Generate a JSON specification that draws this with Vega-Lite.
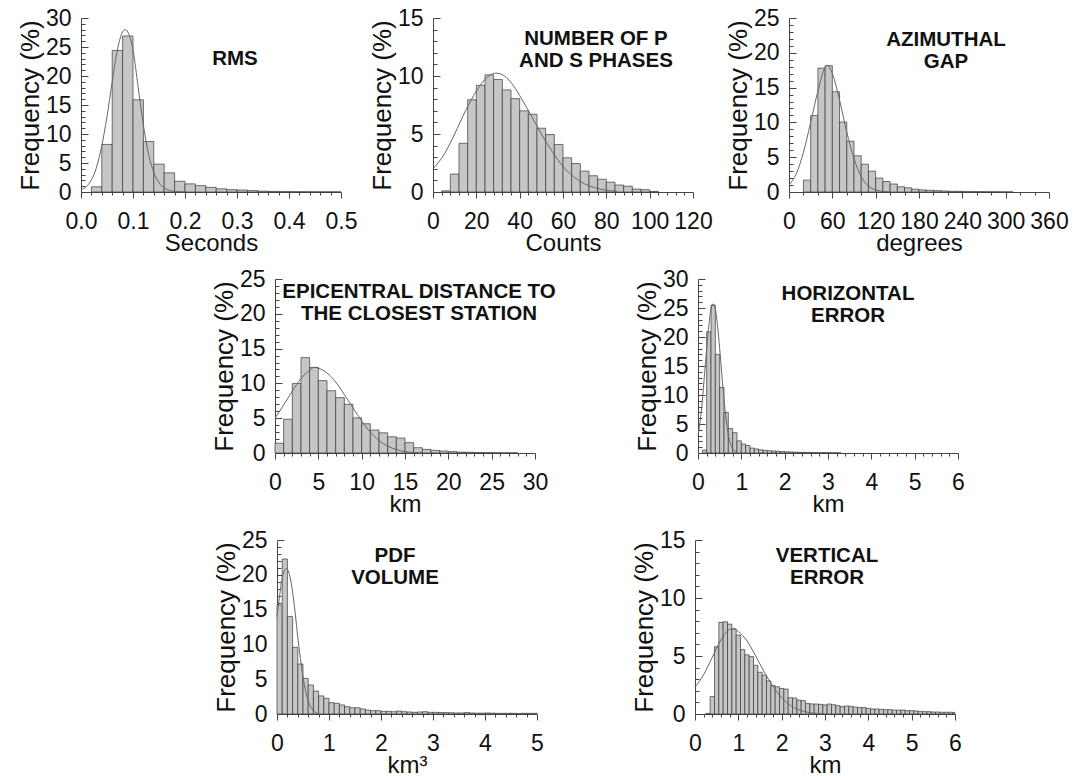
{
"$schema": "https://vega.github.io/schema/vega-lite/v6.json",
"padding": {"left": 17, "top": 7, "right": 0, "bottom": 0},
"background": "white",
"config": {
 "view": {"stroke": null},
 "font": "Liberation Sans",
 "axis": {"domainColor": "#444", "tickColor": "#444", "labelFont": "Liberation Sans", "labelFontSize": 23, "labelColor": "#111", "titleFont": "Liberation Sans", "titleFontSize": 24, "titleFontWeight": "normal", "titleColor": "#111", "grid": false, "labelOverlap": false, "labelFlush": false, "labelBound": false},
 "axisY": {"labelPadding": 17, "titlePadding": 2, "titleFontSize": 26},
 "axisX": {"labelPadding": 12, "titlePadding": -2},
 "title": {"font": "Liberation Sans", "fontSize": 20.5, "fontWeight": "bold", "color": "#111", "anchor": "middle", "frame": "group", "baseline": "top", "lineHeight": 22, "offset": 0},
 "rect": {"fill": "#c6c6c6", "stroke": "#3a3a3a", "strokeWidth": 0.7},
 "line": {"stroke": "#666", "strokeWidth": 1, "interpolate": "monotone"}
},
"datasets": {
 "rms_b": [{"x":0.02,"x2":0.04,"f":0.9},{"x":0.04,"x2":0.06,"f":8.2},{"x":0.06,"x2":0.08,"f":24.4},{"x":0.08,"x2":0.1,"f":26.9},{"x":0.1,"x2":0.12,"f":15.9},{"x":0.12,"x2":0.14,"f":8.7},{"x":0.14,"x2":0.16,"f":4.8},{"x":0.16,"x2":0.18,"f":3.3},{"x":0.18,"x2":0.2,"f":1.85},{"x":0.2,"x2":0.22,"f":1.4},{"x":0.22,"x2":0.24,"f":1.1},{"x":0.24,"x2":0.26,"f":0.8},{"x":0.26,"x2":0.28,"f":0.55},{"x":0.28,"x2":0.3,"f":0.4},{"x":0.3,"x2":0.32,"f":0.35},{"x":0.32,"x2":0.34,"f":0.25},{"x":0.34,"x2":0.36,"f":0.15},{"x":0.36,"x2":0.38,"f":0.1},{"x":0.38,"x2":0.4,"f":0.07},{"x":0.4,"x2":0.42,"f":0.05},{"x":0.42,"x2":0.44,"f":0.04},{"x":0.44,"x2":0.46,"f":0.03},{"x":0.46,"x2":0.48,"f":0.02},{"x":0.48,"x2":0.5,"f":0.02}],
 "rms_c": [{"x":0,"f":0.4},{"x":0.01,"f":0.9},{"x":0.02,"f":2.1},{"x":0.03,"f":4.3},{"x":0.04,"f":8.0},{"x":0.05,"f":13.0},{"x":0.06,"f":19.0},{"x":0.07,"f":24.5},{"x":0.08,"f":27.6},{"x":0.085,"f":28.0},{"x":0.09,"f":27.6},{"x":0.1,"f":24.5},{"x":0.11,"f":18.0},{"x":0.12,"f":11.5},{"x":0.13,"f":6.5},{"x":0.14,"f":3.4},{"x":0.15,"f":1.6},{"x":0.16,"f":0.7},{"x":0.17,"f":0.3},{"x":0.18,"f":0.1},{"x":0.2,"f":0.0}],
 "ph_b": [{"x":4,"x2":8,"f":0.1},{"x":8,"x2":12,"f":1.55},{"x":12,"x2":16,"f":4.2},{"x":16,"x2":20,"f":7.95},{"x":20,"x2":24,"f":9.2},{"x":24,"x2":28,"f":10.1},{"x":28,"x2":32,"f":9.7},{"x":32,"x2":36,"f":8.8},{"x":36,"x2":40,"f":8.05},{"x":40,"x2":44,"f":7.0},{"x":44,"x2":48,"f":6.7},{"x":48,"x2":52,"f":5.5},{"x":52,"x2":56,"f":4.95},{"x":56,"x2":60,"f":4.1},{"x":60,"x2":64,"f":2.95},{"x":64,"x2":68,"f":2.45},{"x":68,"x2":72,"f":1.8},{"x":72,"x2":76,"f":1.4},{"x":76,"x2":80,"f":1.1},{"x":80,"x2":84,"f":0.85},{"x":84,"x2":88,"f":0.6},{"x":88,"x2":92,"f":0.5},{"x":92,"x2":96,"f":0.25},{"x":96,"x2":100,"f":0.2},{"x":100,"x2":104,"f":0.05}],
 "ph_c": [{"x":0,"f":2.0},{"x":5,"f":3.2},{"x":10,"f":5.0},{"x":15,"f":7.0},{"x":20,"f":8.7},{"x":25,"f":9.9},{"x":29,"f":10.25},{"x":33,"f":10.0},{"x":37,"f":9.2},{"x":41,"f":8.0},{"x":45,"f":6.7},{"x":50,"f":5.0},{"x":55,"f":3.5},{"x":60,"f":2.2},{"x":65,"f":1.3},{"x":70,"f":0.7},{"x":75,"f":0.35},{"x":80,"f":0.15},{"x":85,"f":0.05}],
 "gap_b": [{"x":20,"x2":30,"f":1.7},{"x":30,"x2":40,"f":11.0},{"x":40,"x2":50,"f":17.8},{"x":50,"x2":60,"f":18.15},{"x":60,"x2":70,"f":14.4},{"x":70,"x2":80,"f":10.05},{"x":80,"x2":90,"f":7.3},{"x":90,"x2":100,"f":5.2},{"x":100,"x2":110,"f":4.0},{"x":110,"x2":120,"f":3.0},{"x":120,"x2":130,"f":2.0},{"x":130,"x2":140,"f":1.5},{"x":140,"x2":150,"f":1.15},{"x":150,"x2":160,"f":0.75},{"x":160,"x2":170,"f":0.6},{"x":170,"x2":180,"f":0.4},{"x":180,"x2":190,"f":0.3},{"x":190,"x2":200,"f":0.25},{"x":200,"x2":210,"f":0.2},{"x":210,"x2":220,"f":0.15},{"x":220,"x2":230,"f":0.1},{"x":230,"x2":240,"f":0.1},{"x":240,"x2":250,"f":0.06},{"x":250,"x2":260,"f":0.05},{"x":260,"x2":270,"f":0.04},{"x":270,"x2":280,"f":0.03},{"x":280,"x2":290,"f":0.03},{"x":290,"x2":300,"f":0.02},{"x":300,"x2":310,"f":0.02}],
 "gap_c": [{"x":0,"f":1.0},{"x":10,"f":2.6},{"x":20,"f":5.7},{"x":30,"f":10.0},{"x":40,"f":14.5},{"x":50,"f":17.9},{"x":53,"f":18.2},{"x":60,"f":17.0},{"x":70,"f":13.2},{"x":80,"f":8.6},{"x":90,"f":4.8},{"x":100,"f":2.2},{"x":110,"f":0.85},{"x":120,"f":0.3},{"x":130,"f":0.08},{"x":140,"f":0.02}],
 "epi_b": [{"x":0,"x2":1,"f":1.4},{"x":1,"x2":2,"f":4.85},{"x":2,"x2":3,"f":10.0},{"x":3,"x2":4,"f":13.7},{"x":4,"x2":5,"f":12.3},{"x":5,"x2":6,"f":10.4},{"x":6,"x2":7,"f":8.95},{"x":7,"x2":8,"f":7.95},{"x":8,"x2":9,"f":7.0},{"x":9,"x2":10,"f":5.05},{"x":10,"x2":11,"f":4.2},{"x":11,"x2":12,"f":3.3},{"x":12,"x2":13,"f":2.9},{"x":13,"x2":14,"f":2.33},{"x":14,"x2":15,"f":2.14},{"x":15,"x2":16,"f":1.48},{"x":16,"x2":17,"f":0.76},{"x":17,"x2":18,"f":0.52},{"x":18,"x2":19,"f":0.38},{"x":19,"x2":20,"f":0.28},{"x":20,"x2":21,"f":0.2},{"x":21,"x2":22,"f":0.12},{"x":22,"x2":23,"f":0.1},{"x":23,"x2":24,"f":0.07},{"x":24,"x2":25,"f":0.05},{"x":25,"x2":26,"f":0.03},{"x":26,"x2":27,"f":0.02},{"x":27,"x2":28,"f":0.02}],
 "epi_c": [{"x":0,"f":5.0},{"x":1,"f":6.9},{"x":2,"f":8.9},{"x":3,"f":10.7},{"x":4,"f":11.9},{"x":4.5,"f":12.3},{"x":5,"f":12.2},{"x":6,"f":11.5},{"x":7,"f":10.2},{"x":8,"f":8.4},{"x":9,"f":6.5},{"x":10,"f":4.6},{"x":11,"f":3.0},{"x":12,"f":1.8},{"x":13,"f":1.0},{"x":14,"f":0.5},{"x":15,"f":0.2},{"x":16,"f":0.08},{"x":17,"f":0.02}],
 "he_b": [{"x":0.1,"x2":0.2,"f":0.5},{"x":0.2,"x2":0.3,"f":20.9},{"x":0.3,"x2":0.4,"f":25.5},{"x":0.4,"x2":0.5,"f":17.0},{"x":0.5,"x2":0.6,"f":11.3},{"x":0.6,"x2":0.7,"f":7.0},{"x":0.7,"x2":0.8,"f":4.2},{"x":0.8,"x2":0.9,"f":3.5},{"x":0.9,"x2":1.0,"f":2.1},{"x":1.0,"x2":1.1,"f":1.55},{"x":1.1,"x2":1.2,"f":1.3},{"x":1.2,"x2":1.3,"f":0.85},{"x":1.3,"x2":1.4,"f":0.7},{"x":1.4,"x2":1.5,"f":0.55},{"x":1.5,"x2":1.6,"f":0.45},{"x":1.6,"x2":1.7,"f":0.4},{"x":1.7,"x2":1.8,"f":0.35},{"x":1.8,"x2":1.9,"f":0.3},{"x":1.9,"x2":2.0,"f":0.25},{"x":2.0,"x2":2.1,"f":0.2},{"x":2.1,"x2":2.2,"f":0.18},{"x":2.2,"x2":2.3,"f":0.15},{"x":2.3,"x2":2.4,"f":0.12},{"x":2.4,"x2":2.5,"f":0.1},{"x":2.5,"x2":2.6,"f":0.1},{"x":2.6,"x2":2.7,"f":0.08},{"x":2.7,"x2":2.8,"f":0.06},{"x":2.8,"x2":2.9,"f":0.05},{"x":2.9,"x2":3.0,"f":0.05},{"x":3.0,"x2":3.1,"f":0.04},{"x":3.1,"x2":3.2,"f":0.03},{"x":3.2,"x2":3.3,"f":0.03}],
 "he_c": [{"x":0,"f":3.0},{"x":0.05,"f":5.5},{"x":0.1,"f":9.0},{"x":0.15,"f":13.5},{"x":0.2,"f":18.0},{"x":0.25,"f":22.0},{"x":0.3,"f":24.8},{"x":0.35,"f":25.7},{"x":0.4,"f":24.8},{"x":0.45,"f":22.0},{"x":0.5,"f":18.0},{"x":0.55,"f":13.5},{"x":0.6,"f":9.2},{"x":0.65,"f":5.7},{"x":0.7,"f":3.2},{"x":0.75,"f":1.6},{"x":0.8,"f":0.7},{"x":0.85,"f":0.3},{"x":0.9,"f":0.1}],
 "pdf_b": [{"x":0,"x2":0.1,"f":15.66},{"x":0.1,"x2":0.2,"f":22.27},{"x":0.2,"x2":0.3,"f":14.0},{"x":0.3,"x2":0.4,"f":9.58},{"x":0.4,"x2":0.5,"f":7.18},{"x":0.5,"x2":0.6,"f":5.12},{"x":0.6,"x2":0.7,"f":4.17},{"x":0.7,"x2":0.8,"f":3.3},{"x":0.8,"x2":0.9,"f":2.6},{"x":0.9,"x2":1.0,"f":2.25},{"x":1.0,"x2":1.1,"f":1.63},{"x":1.1,"x2":1.2,"f":1.53},{"x":1.2,"x2":1.3,"f":1.3},{"x":1.3,"x2":1.4,"f":1.05},{"x":1.4,"x2":1.5,"f":0.9},{"x":1.5,"x2":1.6,"f":0.9},{"x":1.6,"x2":1.7,"f":0.72},{"x":1.7,"x2":1.8,"f":0.57},{"x":1.8,"x2":1.9,"f":0.48},{"x":1.9,"x2":2.0,"f":0.48},{"x":2.0,"x2":2.1,"f":0.38},{"x":2.1,"x2":2.2,"f":0.38},{"x":2.2,"x2":2.3,"f":0.33},{"x":2.3,"x2":2.4,"f":0.43},{"x":2.4,"x2":2.5,"f":0.33},{"x":2.5,"x2":2.6,"f":0.29},{"x":2.6,"x2":2.7,"f":0.24},{"x":2.7,"x2":2.8,"f":0.29},{"x":2.8,"x2":2.9,"f":0.33},{"x":2.9,"x2":3.0,"f":0.24},{"x":3.0,"x2":3.1,"f":0.24},{"x":3.1,"x2":3.2,"f":0.22},{"x":3.2,"x2":3.3,"f":0.2},{"x":3.3,"x2":3.4,"f":0.18},{"x":3.4,"x2":3.5,"f":0.15},{"x":3.5,"x2":3.6,"f":0.15},{"x":3.6,"x2":3.7,"f":0.2},{"x":3.7,"x2":3.8,"f":0.15},{"x":3.8,"x2":3.9,"f":0.12},{"x":3.9,"x2":4.0,"f":0.12},{"x":4.0,"x2":4.1,"f":0.15},{"x":4.1,"x2":4.2,"f":0.12},{"x":4.2,"x2":4.3,"f":0.1},{"x":4.3,"x2":4.4,"f":0.1},{"x":4.4,"x2":4.5,"f":0.1},{"x":4.5,"x2":4.6,"f":0.1},{"x":4.6,"x2":4.7,"f":0.08},{"x":4.7,"x2":4.8,"f":0.1},{"x":4.8,"x2":4.9,"f":0.1},{"x":4.9,"x2":5.0,"f":0.1}],
 "pdf_c": [{"x":0,"f":14.0},{"x":0.05,"f":17.0},{"x":0.1,"f":19.5},{"x":0.15,"f":20.7},{"x":0.18,"f":20.9},{"x":0.2,"f":20.8},{"x":0.25,"f":19.7},{"x":0.3,"f":17.5},{"x":0.35,"f":14.5},{"x":0.4,"f":11.0},{"x":0.45,"f":8.0},{"x":0.5,"f":5.3},{"x":0.55,"f":3.3},{"x":0.6,"f":1.9},{"x":0.65,"f":1.0},{"x":0.7,"f":0.5},{"x":0.75,"f":0.2},{"x":0.8,"f":0.05}],
 "ve_b": [{"x":0.25,"x2":0.35,"f":0.05},{"x":0.35,"x2":0.45,"f":1.5},{"x":0.45,"x2":0.55,"f":5.8},{"x":0.55,"x2":0.65,"f":7.9},{"x":0.65,"x2":0.75,"f":7.95},{"x":0.75,"x2":0.85,"f":7.75},{"x":0.85,"x2":0.95,"f":7.35},{"x":0.95,"x2":1.05,"f":6.8},{"x":1.05,"x2":1.15,"f":5.55},{"x":1.15,"x2":1.25,"f":5.1},{"x":1.25,"x2":1.35,"f":4.95},{"x":1.35,"x2":1.45,"f":4.2},{"x":1.45,"x2":1.55,"f":3.6},{"x":1.55,"x2":1.65,"f":3.35},{"x":1.65,"x2":1.75,"f":2.85},{"x":1.75,"x2":1.85,"f":2.45},{"x":1.85,"x2":1.95,"f":2.35},{"x":1.95,"x2":2.05,"f":2.2},{"x":2.05,"x2":2.15,"f":2.15},{"x":2.15,"x2":2.25,"f":1.4},{"x":2.25,"x2":2.35,"f":1.38},{"x":2.35,"x2":2.45,"f":1.2},{"x":2.45,"x2":2.55,"f":1.15},{"x":2.55,"x2":2.65,"f":0.9},{"x":2.65,"x2":2.75,"f":0.87},{"x":2.75,"x2":2.85,"f":0.86},{"x":2.85,"x2":2.95,"f":0.83},{"x":2.95,"x2":3.05,"f":0.78},{"x":3.05,"x2":3.15,"f":0.86},{"x":3.15,"x2":3.25,"f":0.8},{"x":3.25,"x2":3.35,"f":0.72},{"x":3.35,"x2":3.45,"f":0.63},{"x":3.45,"x2":3.55,"f":0.69},{"x":3.55,"x2":3.65,"f":0.66},{"x":3.65,"x2":3.75,"f":0.6},{"x":3.75,"x2":3.85,"f":0.55},{"x":3.85,"x2":3.95,"f":0.55},{"x":3.95,"x2":4.05,"f":0.49},{"x":4.05,"x2":4.15,"f":0.43},{"x":4.15,"x2":4.25,"f":0.43},{"x":4.25,"x2":4.35,"f":0.4},{"x":4.35,"x2":4.45,"f":0.37},{"x":4.45,"x2":4.55,"f":0.37},{"x":4.55,"x2":4.65,"f":0.34},{"x":4.65,"x2":4.75,"f":0.34},{"x":4.75,"x2":4.85,"f":0.34},{"x":4.85,"x2":4.95,"f":0.29},{"x":4.95,"x2":5.05,"f":0.29},{"x":5.05,"x2":5.15,"f":0.26},{"x":5.15,"x2":5.25,"f":0.23},{"x":5.25,"x2":5.35,"f":0.2},{"x":5.35,"x2":5.45,"f":0.2},{"x":5.45,"x2":5.55,"f":0.17},{"x":5.55,"x2":5.65,"f":0.17},{"x":5.65,"x2":5.75,"f":0.15},{"x":5.75,"x2":5.85,"f":0.15},{"x":5.85,"x2":5.95,"f":0.15},{"x":5.95,"x2":6.0,"f":0.12}],
 "ve_c": [{"x":0,"f":2.3},{"x":0.2,"f":3.4},{"x":0.4,"f":4.9},{"x":0.6,"f":6.4},{"x":0.8,"f":7.3},{"x":0.86,"f":7.35},{"x":1.0,"f":7.1},{"x":1.2,"f":6.3},{"x":1.4,"f":5.0},{"x":1.6,"f":3.6},{"x":1.8,"f":2.4},{"x":2.0,"f":1.4},{"x":2.2,"f":0.75},{"x":2.4,"f":0.35},{"x":2.6,"f":0.15},{"x":2.8,"f":0.05},{"x":3.0,"f":0.01}],
 "spacer": [{"a": 0}]
},
"vconcat": [
 {"hconcat": [
  {"width": 260, "height": 174, "title": {"text": ["RMS"], "dx": 24, "dy": 66},
   "layer": [
    {"data": {"name": "rms_b"}, "mark": "rect", "encoding": {
      "x": {"field": "x", "type": "quantitative", "scale": {"domain": [0, 0.5], "nice": false}, "axis": {"title": "Seconds", "labelOverlap": false, "tickCount": 1000, "values": [0,0.02,0.04,0.06,0.08,0.1,0.12,0.14,0.16,0.18,0.2,0.22,0.24,0.26,0.28,0.3,0.32,0.34,0.36,0.38,0.4,0.42,0.44,0.46,0.48,0.5], "tickSize": {"condition": {"test": "abs(datum.value*10 - round(datum.value*10)) < 0.001", "value": 6}, "value": 3}, "labelExpr": "abs(datum.value*10 - round(datum.value*10)) < 0.001 ? format(datum.value, '.1f') : ''"}},
      "x2": {"field": "x2"},
      "y": {"field": "f", "type": "quantitative", "scale": {"domain": [0, 30], "nice": false}, "axis": {"title": "Frequency (%)", "labelOverlap": false, "tickCount": 1000, "values": [0,1,2,3,4,5,6,7,8,9,10,11,12,13,14,15,16,17,18,19,20,21,22,23,24,25,26,27,28,29,30], "tickSize": {"condition": {"test": "datum.value % 5 === 0", "value": -7}, "value": -4}, "labelExpr": "datum.value % 5 === 0 ? format(datum.value, 'd') : ''"}},
      "y2": {"datum": 0}}},
    {"data": {"name": "rms_c"}, "mark": "line", "encoding": {"x": {"field": "x", "type": "quantitative"}, "y": {"field": "f", "type": "quantitative"}}}
   ]},
  {"width": 260, "height": 174, "title": {"text": ["NUMBER OF P", "AND S PHASES"], "dx": 33, "dy": 68},
   "layer": [
    {"data": {"name": "ph_b"}, "mark": "rect", "encoding": {
      "x": {"field": "x", "type": "quantitative", "scale": {"domain": [0, 120], "nice": false}, "axis": {"title": "Counts", "labelOverlap": false, "tickCount": 1000, "values": [0,4,8,12,16,20,24,28,32,36,40,44,48,52,56,60,64,68,72,76,80,84,88,92,96,100,104,108,112,116,120], "tickSize": {"condition": {"test": "datum.value % 20 === 0", "value": 6}, "value": 3}, "labelExpr": "datum.value % 20 === 0 ? format(datum.value, 'd') : ''"}},
      "x2": {"field": "x2"},
      "y": {"field": "f", "type": "quantitative", "scale": {"domain": [0, 15], "nice": false}, "axis": {"title": "Frequency (%)", "labelOverlap": false, "tickCount": 1000, "values": [0,1,2,3,4,5,6,7,8,9,10,11,12,13,14,15], "tickSize": {"condition": {"test": "datum.value % 5 === 0", "value": -7}, "value": -4}, "labelExpr": "datum.value % 5 === 0 ? format(datum.value, 'd') : ''"}},
      "y2": {"datum": 0}}},
    {"data": {"name": "ph_c"}, "mark": "line", "encoding": {"x": {"field": "x", "type": "quantitative"}, "y": {"field": "f", "type": "quantitative"}}}
   ]},
  {"width": 260, "height": 174, "title": {"text": ["AZIMUTHAL", "GAP"], "dx": 27, "dy": 69},
   "layer": [
    {"data": {"name": "gap_b"}, "mark": "rect", "encoding": {
      "x": {"field": "x", "type": "quantitative", "scale": {"domain": [0, 360], "nice": false}, "axis": {"title": "degrees", "labelOverlap": false, "tickCount": 1000, "values": [0,20,40,60,80,100,120,140,160,180,200,220,240,260,280,300,320,340,360], "tickSize": {"condition": {"test": "datum.value % 60 === 0", "value": 6}, "value": 3}, "labelExpr": "datum.value % 60 === 0 ? format(datum.value, 'd') : ''"}},
      "x2": {"field": "x2"},
      "y": {"field": "f", "type": "quantitative", "scale": {"domain": [0, 25], "nice": false}, "axis": {"title": "Frequency (%)", "labelOverlap": false, "tickCount": 1000, "values": [0,1,2,3,4,5,6,7,8,9,10,11,12,13,14,15,16,17,18,19,20,21,22,23,24,25], "tickSize": {"condition": {"test": "datum.value % 5 === 0", "value": -7}, "value": -4}, "labelExpr": "datum.value % 5 === 0 ? format(datum.value, 'd') : ''"}},
      "y2": {"datum": 0}}},
    {"data": {"name": "gap_c"}, "mark": "line", "encoding": {"x": {"field": "x", "type": "quantitative"}, "y": {"field": "f", "type": "quantitative"}}}
   ]}
 ], "spacing": 12},
 {"hconcat": [
  {"width": 52, "height": 2, "data": {"name": "spacer"}, "mark": {"type": "point", "opacity": 0}, "encoding": {"x": {"field": "a", "type": "quantitative", "axis": null}, "y": {"field": "a", "type": "quantitative", "axis": null}}},
  {"width": 260, "height": 174, "title": {"text": ["EPICENTRAL DISTANCE TO", "THE CLOSEST STATION"], "dx": 14, "dy": 60},
   "layer": [
    {"data": {"name": "epi_b"}, "mark": "rect", "encoding": {
      "x": {"field": "x", "type": "quantitative", "scale": {"domain": [0, 30], "nice": false}, "axis": {"title": "km", "labelOverlap": false, "tickCount": 1000, "values": [0,1,2,3,4,5,6,7,8,9,10,11,12,13,14,15,16,17,18,19,20,21,22,23,24,25,26,27,28,29,30], "tickSize": {"condition": {"test": "datum.value % 5 === 0", "value": 6}, "value": 3}, "labelExpr": "datum.value % 5 === 0 ? format(datum.value, 'd') : ''"}},
      "x2": {"field": "x2"},
      "y": {"field": "f", "type": "quantitative", "scale": {"domain": [0, 25], "nice": false}, "axis": {"title": "Frequency (%)", "labelOverlap": false, "tickCount": 1000, "values": [0,1,2,3,4,5,6,7,8,9,10,11,12,13,14,15,16,17,18,19,20,21,22,23,24,25], "tickSize": {"condition": {"test": "datum.value % 5 === 0", "value": -7}, "value": -4}, "labelExpr": "datum.value % 5 === 0 ? format(datum.value, 'd') : ''"}},
      "y2": {"datum": 0}}},
    {"data": {"name": "epi_c"}, "mark": "line", "encoding": {"x": {"field": "x", "type": "quantitative"}, "y": {"field": "f", "type": "quantitative"}}}
   ]},
  {"width": 260, "height": 174, "title": {"text": ["HORIZONTAL", "ERROR"], "dx": 20, "dy": 62},
   "layer": [
    {"data": {"name": "he_b"}, "mark": "rect", "encoding": {
      "x": {"field": "x", "type": "quantitative", "scale": {"domain": [0, 6], "nice": false}, "axis": {"title": "km", "labelOverlap": false, "tickCount": 1000, "values": [0,0.2,0.4,0.6,0.8,1,1.2,1.4,1.6,1.8,2,2.2,2.4,2.6,2.8,3,3.2,3.4,3.6,3.8,4,4.2,4.4,4.6,4.8,5,5.2,5.4,5.6,5.8,6], "tickSize": {"condition": {"test": "abs(datum.value - round(datum.value)) < 0.001", "value": 6}, "value": 3}, "labelExpr": "abs(datum.value - round(datum.value)) < 0.001 ? format(datum.value, '.0f') : ''"}},
      "x2": {"field": "x2"},
      "y": {"field": "f", "type": "quantitative", "scale": {"domain": [0, 30], "nice": false}, "axis": {"title": "Frequency (%)", "labelOverlap": false, "tickCount": 1000, "values": [0,1,2,3,4,5,6,7,8,9,10,11,12,13,14,15,16,17,18,19,20,21,22,23,24,25,26,27,28,29,30], "tickSize": {"condition": {"test": "datum.value % 5 === 0", "value": -7}, "value": -4}, "labelExpr": "datum.value % 5 === 0 ? format(datum.value, 'd') : ''"}},
      "y2": {"datum": 0}}},
    {"data": {"name": "he_c"}, "mark": "line", "encoding": {"x": {"field": "x", "type": "quantitative"}, "y": {"field": "f", "type": "quantitative"}}}
   ]}
 ], "spacing": 78},
 {"hconcat": [
  {"width": 45, "height": 2, "data": {"name": "spacer"}, "mark": {"type": "point", "opacity": 0}, "encoding": {"x": {"field": "a", "type": "quantitative", "axis": null}, "y": {"field": "a", "type": "quantitative", "axis": null}}},
  {"width": 260, "height": 174, "title": {"text": ["PDF", "VOLUME"], "dx": -12, "dy": 63},
   "layer": [
    {"data": {"name": "pdf_b"}, "mark": "rect", "encoding": {
      "x": {"field": "x", "type": "quantitative", "scale": {"domain": [0, 5], "nice": false}, "axis": {"title": "km³", "labelOverlap": false, "tickCount": 1000, "values": [0,0.2,0.4,0.6,0.8,1,1.2,1.4,1.6,1.8,2,2.2,2.4,2.6,2.8,3,3.2,3.4,3.6,3.8,4,4.2,4.4,4.6,4.8,5], "tickSize": {"condition": {"test": "abs(datum.value - round(datum.value)) < 0.001", "value": 6}, "value": 3}, "labelExpr": "abs(datum.value - round(datum.value)) < 0.001 ? format(datum.value, '.0f') : ''"}},
      "x2": {"field": "x2"},
      "y": {"field": "f", "type": "quantitative", "scale": {"domain": [0, 25], "nice": false}, "axis": {"title": "Frequency (%)", "labelOverlap": false, "tickCount": 1000, "values": [0,1,2,3,4,5,6,7,8,9,10,11,12,13,14,15,16,17,18,19,20,21,22,23,24,25], "tickSize": {"condition": {"test": "datum.value % 5 === 0", "value": -7}, "value": -4}, "labelExpr": "datum.value % 5 === 0 ? format(datum.value, 'd') : ''"}},
      "y2": {"datum": 0}}},
    {"data": {"name": "pdf_c"}, "mark": "line", "encoding": {"x": {"field": "x", "type": "quantitative"}, "y": {"field": "f", "type": "quantitative"}}}
   ]},
  {"width": 260, "height": 174, "title": {"text": ["VERTICAL", "ERROR"], "dx": 2, "dy": 63},
   "layer": [
    {"data": {"name": "ve_b"}, "mark": "rect", "encoding": {
      "x": {"field": "x", "type": "quantitative", "scale": {"domain": [0, 6], "nice": false}, "axis": {"title": "km", "labelOverlap": false, "tickCount": 1000, "values": [0,0.2,0.4,0.6,0.8,1,1.2,1.4,1.6,1.8,2,2.2,2.4,2.6,2.8,3,3.2,3.4,3.6,3.8,4,4.2,4.4,4.6,4.8,5,5.2,5.4,5.6,5.8,6], "tickSize": {"condition": {"test": "abs(datum.value - round(datum.value)) < 0.001", "value": 6}, "value": 3}, "labelExpr": "abs(datum.value - round(datum.value)) < 0.001 ? format(datum.value, '.0f') : ''"}},
      "x2": {"field": "x2"},
      "y": {"field": "f", "type": "quantitative", "scale": {"domain": [0, 15], "nice": false}, "axis": {"title": "Frequency (%)", "labelOverlap": false, "tickCount": 1000, "values": [0,1,2,3,4,5,6,7,8,9,10,11,12,13,14,15], "tickSize": {"condition": {"test": "datum.value % 5 === 0", "value": -7}, "value": -4}, "labelExpr": "datum.value % 5 === 0 ? format(datum.value, 'd') : ''"}},
      "y2": {"datum": 0}}},
    {"data": {"name": "ve_c"}, "mark": "line", "encoding": {"x": {"field": "x", "type": "quantitative"}, "y": {"field": "f", "type": "quantitative"}}}
   ]}
 ], "spacing": 87}
],
"spacing": 13
}
